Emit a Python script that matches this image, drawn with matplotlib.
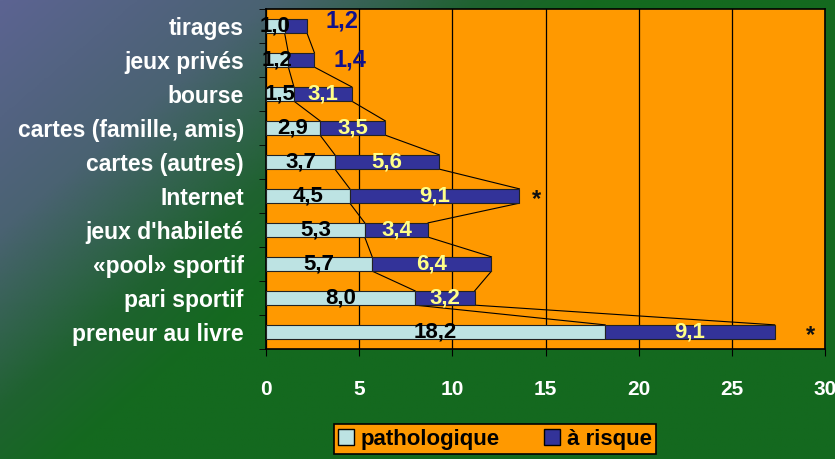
import numpy as np
import matplotlib.pyplot as plt
from matplotlib.colors import LinearSegmentedColormap
from matplotlib.patches import Patch

plt.rcParams['font.family'] = ['Liberation Sans', 'DejaVu Sans']
plt.rcParams['font.weight'] = 'bold'

# data (first = bottom bar)
categories = ['preneur au livre', 'pari sportif', '«pool» sportif', "jeux d'habileté",
              'Internet', 'cartes (autres)', 'cartes (famille, amis)', 'bourse',
              'jeux privés', 'tirages']
pathologique = [18.2, 8.0, 5.7, 5.3, 4.5, 3.7, 2.9, 1.5, 1.2, 1.0]
a_risque = [9.1, 3.2, 6.4, 3.4, 9.1, 5.6, 3.5, 3.1, 1.4, 1.2]
starred = ['preneur au livre', 'Internet']
xticks = [0, 5, 10, 15, 20, 25, 30]

def fmt(v):
    return f"{v:.1f}".replace('.', ',')

fig = plt.figure(figsize=(8.35, 4.59), dpi=100)

# background gradient
bg = fig.add_axes([0, 0, 1, 1], zorder=-10)
H, W = 200, 360
yy, xx = np.mgrid[0:H, 0:W]
t = np.clip(1.4 * xx / W + 0.9 * yy / H, 0, 1)
cmap = LinearSegmentedColormap.from_list('bg', [(0, '#5c6492'), (0.45, '#4a6272'), (0.8, '#1f6230'), (1, '#14691f')])
bg.imshow(t, cmap=cmap, aspect='auto', extent=[0, 1, 0, 1], origin='upper')
bg.axis('off')

ax = fig.add_axes([266/835, 1 - 349/459, (825-266)/835, (349-9)/459])
ax.set_facecolor('#FF9900')

y = np.arange(len(categories))
h = 0.42
patho = np.array(pathologique)
risk = np.array(a_risque)
tot = patho + risk

ax.barh(y, patho, height=h, color='#BDE3E3', edgecolor='#222222', linewidth=0.8, zorder=3)
ax.barh(y, risk, left=patho, height=h, color='#333399', edgecolor='#222222', linewidth=0.8, zorder=3)

# series lines between bars
for i in range(len(y) - 1):
    for xe in (patho, tot):
        ax.plot([xe[i], xe[i+1]], [y[i] + h/2, y[i+1] - h/2], color='black', lw=0.8, zorder=2)

# labels
for i in range(len(y)):
    ax.text(patho[i] / 2, y[i], fmt(patho[i]), ha='center', va='center',
            fontsize=16, color='black', zorder=4)
    if risk[i] < 2:
        ax.text(tot[i] + 1.9, y[i] + (0.15 if i == len(y) - 1 else 0), fmt(risk[i]),
                ha='center', va='center', fontsize=17, color='#10108a', zorder=4)
    else:
        ax.text(patho[i] + risk[i] / 2, y[i], fmt(risk[i]), ha='center', va='center',
                fontsize=16, color='#FFFF88', zorder=4)
    if categories[i] in starred:
        ax.text(tot[i] + (1.9 if tot[i] > 20 else 0.9), y[i] - 0.1, '*', ha='center',
                va='center', fontsize=17, color='#111111', zorder=4)

ax.set_xlim(0, 30)
ax.set_ylim(-0.5, len(y) - 0.5)
ax.set_xticks(xticks)
ax.set_xticklabels([str(v) for v in xticks], fontsize=15, color='white')
ax.set_yticks(y)
ax.set_yticklabels(categories, fontsize=16.5, color='white')
ax.tick_params(axis='y', length=0, pad=16)
ax.set_yticks(np.arange(len(y) + 1) - 0.5, minor=True)
ax.tick_params(axis='y', which='minor', length=5, color='black', direction='out')
ax.tick_params(axis='x', length=5, color='black', direction='out', pad=17)
ax.grid(axis='x', color='black', lw=0.9, zorder=1)
ax.set_axisbelow(True)
for s in ax.spines.values():
    s.set_color('black')
    s.set_linewidth(1.2)

handles = [Patch(facecolor='#BDE3E3', edgecolor='black', label='pathologique'),
           Patch(facecolor='#333399', edgecolor='black', label='à risque')]
leg = fig.legend(handles=handles, loc='center', bbox_to_anchor=(495/835, 1 - 439/459),
                 ncol=2, fontsize=16, frameon=True, fancybox=False, handlelength=0.7,
                 handleheight=0.7, handletextpad=0.3, columnspacing=2.0,
                 borderpad=0.2, edgecolor='black', framealpha=1)
leg.get_frame().set_facecolor('#FF9900')
leg.get_frame().set_linewidth(1.2)

fig.savefig('out.png', dpi=100)
